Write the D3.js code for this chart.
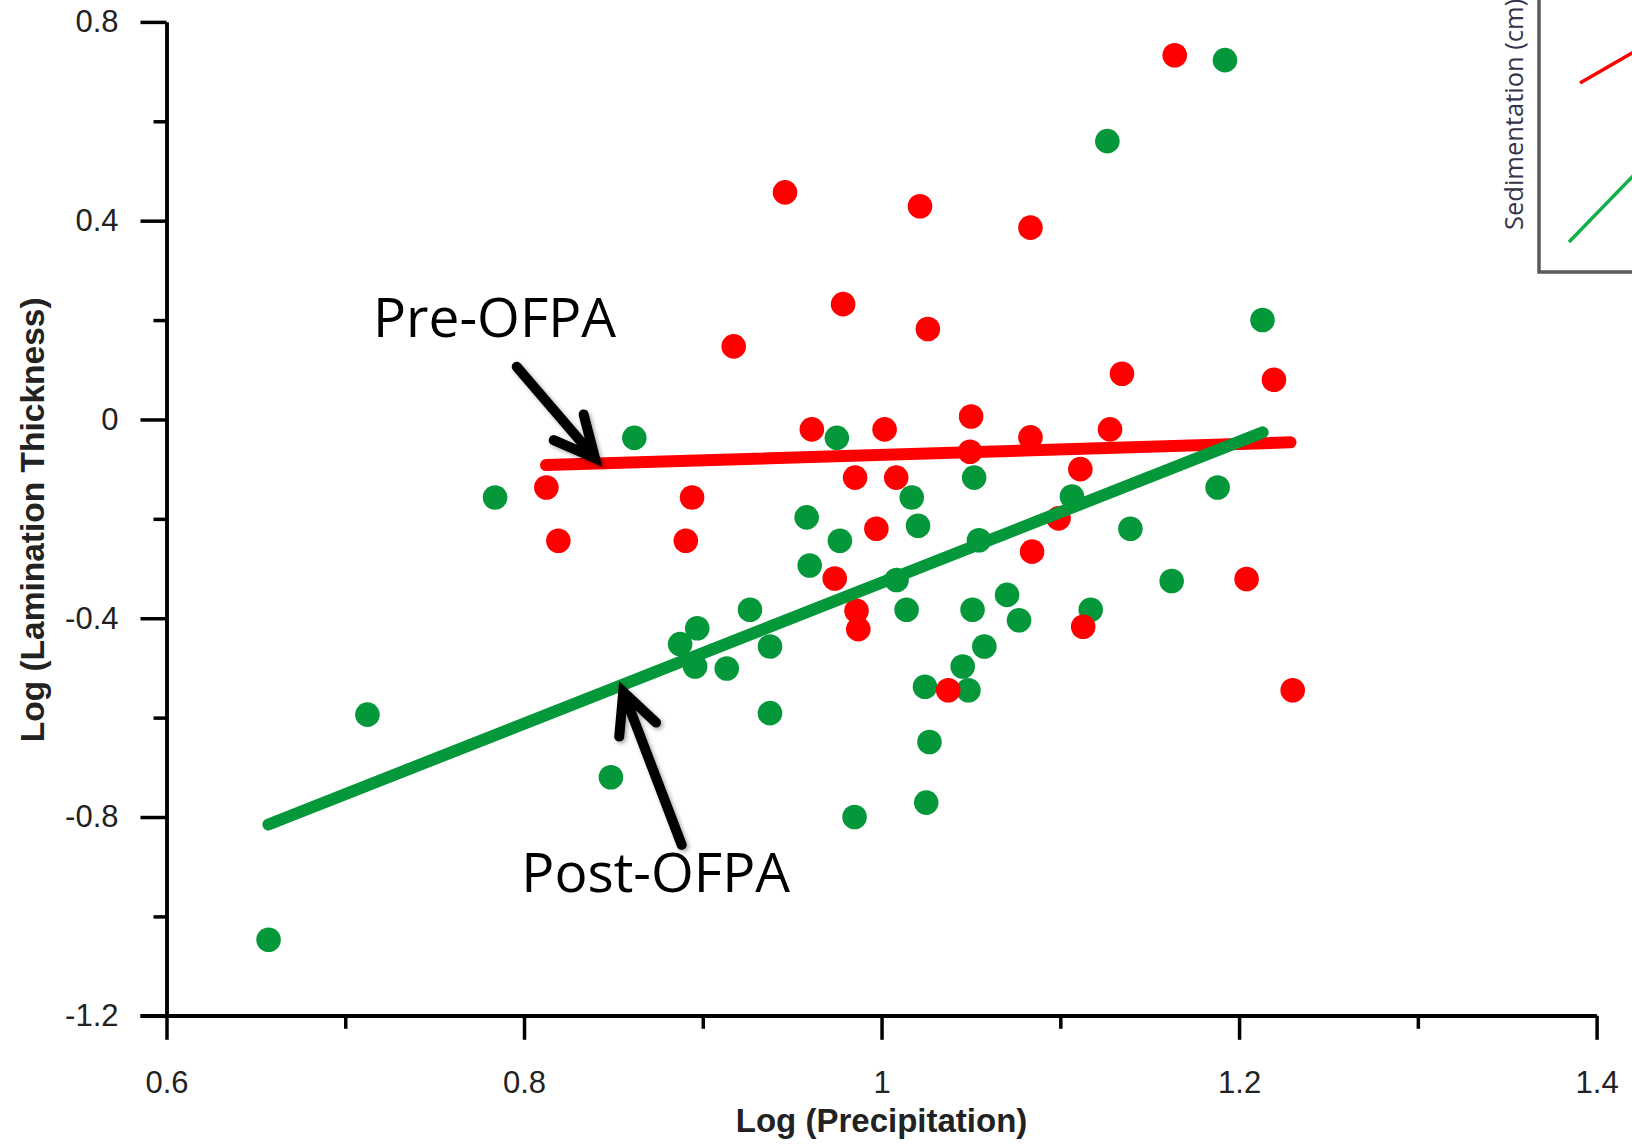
<!DOCTYPE html>
<html>
<head>
<meta charset="utf-8">
<script src="https://cdn.jsdelivr.net/npm/d3@7/dist/d3.min.js"></script>
<style>
  html, body { margin: 0; padding: 0; background: #ffffff; }
  svg { display: block; }
</style>
</head>
<body>
<svg id="chart" width="1632" height="1146"></svg>
<script>
// ---------------- DATA ----------------
const xTickValues = [0.6, 0.8, 1.0, 1.2, 1.4];
const xTickLabels = ["0.6", "0.8", "1", "1.2", "1.4"];
const xMinorTicks = [0.7, 0.9, 1.1, 1.3];
const yTickValues = [-1.2, -0.8, -0.4, 0, 0.4, 0.8];
const yTickLabels = ["-1.2", "-0.8", "-0.4", "0", "0.4", "0.8"];
const yMinorTicks = [-1.0, -0.6, -0.2, 0.2, 0.6];

const xTitle = "Log (Precipitation)";
const yTitle = "Log (Lamination Thickness)";

// Pre-OFPA (red)
const preX = [1.164, 0.946, 1.0215, 1.0833, 0.9785, 1.0259, 0.9173, 1.1345, 1.2195, 1.0501,
              0.961, 1.0017, 1.1278, 1.0833, 1.0495, 1.1112, 0.9852, 1.0082, 0.8125, 0.894,
              1.099, 0.9971, 0.8192, 0.8905, 1.0842, 0.9738, 1.2042, 0.986, 0.987, 1.1128,
              1.0373, 1.23];
const preY = [0.733, 0.457, 0.429, 0.386, 0.232, 0.182, 0.147, 0.092, 0.080, 0.006,
              -0.020, -0.020, -0.020, -0.036, -0.065, -0.100, -0.117, -0.117, -0.137, -0.157,
              -0.199, -0.220, -0.244, -0.244, -0.266, -0.320, -0.321, -0.385, -0.422, -0.417,
              -0.545, -0.545];

// Post-OFPA (green)
const postX = [1.1921, 1.1263, 1.2131, 0.8617, 0.975, 1.0518, 0.7838, 1.0169, 1.1065, 1.188,
               0.9581, 1.0204, 1.1392, 0.9767, 1.0545, 0.9598, 1.0084, 1.1623, 1.0702, 0.9264,
               1.014, 1.0509, 1.117, 1.0769, 0.8969, 0.8873, 0.9376, 1.0575, 0.8957, 0.9134,
               1.0454, 1.0243, 1.0486, 0.7124, 0.9376, 1.0268, 0.8486, 1.025, 0.9849, 0.6571];
const postY = [0.723, 0.560, 0.200, -0.037, -0.037, -0.117, -0.157, -0.157, -0.155, -0.137,
               -0.197, -0.214, -0.220, -0.244, -0.243, -0.294, -0.323, -0.325, -0.353, -0.383,
               -0.383, -0.383, -0.383, -0.404, -0.420, -0.452, -0.457, -0.457, -0.497, -0.501,
               -0.497, -0.538, -0.545, -0.594, -0.591, -0.649, -0.720, -0.771, -0.800, -1.047];

// regression lines [x, y] endpoints
const preFitX = [0.8123, 1.2288];
const preFitY = [-0.0917, -0.046];
const postFitX = [0.657, 1.2132];
const postFitY = [-0.815, -0.026];

// annotations (data units)
const annoLabels = ["Pre-OFPA", "Post-OFPA"];
const annoTextX = [0.7155, 0.7985];
const annoTextY = [0.1665, -0.9503];
const arrowTailX = [0.7959, 0.8882];
const arrowTailY = [0.1062, -0.856];
const arrowTipX = [0.8397, 0.8555];
const arrowTipY = [-0.0775, -0.548];

// inset sketch (inset units)
const insetTitle = "Sedimentation (cm)";
const insetRedX = [0.205, 0.6];
const insetRedY = [0.945, 1.173];
const insetGreenX = [0.15, 0.6];
const insetGreenY = [0.15, 0.614];

// ---------------- STYLE ----------------
const RED = "#ff0000";
const GREEN = "#05983a";

const svg = d3.select("#chart");
svg.append("rect").attr("width", 1632).attr("height", 1146).attr("fill", "#ffffff");

const defs = svg.append("defs");
const shadow = defs.append("filter").attr("id", "shadow")
  .attr("x", "-20%").attr("y", "-20%").attr("width", "140%").attr("height", "140%");
shadow.append("feDropShadow").attr("dx", 2).attr("dy", 2).attr("stdDeviation", 2)
  .attr("flood-color", "#000").attr("flood-opacity", 0.35);

const x = d3.scaleLinear().domain([0.6, 1.4]).range([166.5, 1596.6]);
const y = d3.scaleLinear().domain([-1.2, 0.8]).range([1015.8, 21.9]);

// ---------------- INSET ----------------
const ix = d3.scaleLinear().domain([0, 1]).range([1539, 1739]);
const iy = d3.scaleLinear().domain([0, 1]).range([272, 72]);
const inset = svg.append("g");
inset.append("path")
  .attr("d", `M${ix(0)},-10V${iy(0)}H1645`)
  .attr("fill", "none").attr("stroke", "#5a5a5a").attr("stroke-width", 3.5);
const iline = d3.line().x(d => ix(d[0])).y(d => iy(d[1]));
inset.append("path").attr("d", iline(d3.zip(insetRedX, insetRedY)))
  .attr("stroke", RED).attr("stroke-width", 3.5).attr("fill", "none");
inset.append("path").attr("d", iline(d3.zip(insetGreenX, insetGreenY)))
  .attr("stroke", "#12b04a").attr("stroke-width", 3.5).attr("fill", "none");
inset.append("text")
  .attr("transform", `translate(1523,230) rotate(-90)`)
  .attr("font-family", "'Open Sans', 'Noto Sans', sans-serif")
  .attr("font-size", 25.5).attr("fill", "#33334a")
  .text(insetTitle);

// ---------------- AXES ----------------
const fontAxis = "'Liberation Sans', Arial, sans-serif";

const gx = svg.append("g").attr("transform", `translate(0,${y(-1.2)})`);
gx.call(d3.axisBottom(x).tickValues(xMinorTicks).tickSize(13).tickSizeOuter(0).tickFormat(""));
const gxMajor = svg.append("g").attr("transform", `translate(0,${y(-1.2)})`)
  .call(d3.axisBottom(x).tickValues(xTickValues).tickSize(24).tickSizeOuter(0).tickPadding(31)
    .tickFormat((d, i) => xTickLabels[i]));

const gy = svg.append("g").attr("transform", `translate(${x(0.6)},0)`);
gy.call(d3.axisLeft(y).tickValues(yMinorTicks).tickSize(13).tickSizeOuter(0).tickFormat(""));
const gyMajor = svg.append("g").attr("transform", `translate(${x(0.6)},0)`)
  .call(d3.axisLeft(y).tickValues(yTickValues).tickSize(26).tickSizeOuter(0).tickPadding(22)
    .tickFormat((d, i) => yTickLabels[i]));

svg.selectAll(".domain").attr("stroke", "#000").attr("stroke-width", 3.5);
svg.selectAll(".tick line").attr("stroke", "#000").attr("stroke-width", 3.5);
svg.selectAll(".tick text").attr("font-family", fontAxis).attr("font-size", 31).attr("fill", "#222");

// x-axis extends left to meet the -1.2 tick
gxMajor.select(".domain").attr("d", `M${x(0.6) - 26},0H${x(1.4)}`);

// titles
svg.append("text")
  .attr("x", x(1.0)).attr("y", 1132)
  .attr("text-anchor", "middle")
  .attr("font-family", fontAxis).attr("font-weight", "bold").attr("font-size", 33)
  .attr("fill", "#222")
  .text(xTitle);
svg.append("text")
  .attr("transform", `translate(44,${(y(-1.2) + y(0.8)) / 2 + 1}) rotate(-90)`)
  .attr("text-anchor", "middle")
  .attr("font-family", fontAxis).attr("font-weight", "bold").attr("font-size", 33.5)
  .attr("fill", "#222")
  .text(yTitle);

// ---------------- POINTS ----------------
const R = 12.3;
svg.append("g").selectAll("circle").data(d3.zip(postX, postY)).join("circle")
  .attr("cx", d => x(d[0])).attr("cy", d => y(d[1])).attr("r", R).attr("fill", GREEN);
svg.append("g").selectAll("circle").data(d3.zip(preX, preY)).join("circle")
  .attr("cx", d => x(d[0])).attr("cy", d => y(d[1])).attr("r", R).attr("fill", RED);

// ---------------- FIT LINES ----------------
const line = d3.line().x(d => x(d[0])).y(d => y(d[1]));
svg.append("path").attr("d", line(d3.zip(preFitX, preFitY)))
  .attr("stroke", RED).attr("stroke-width", 12).attr("stroke-linecap", "round").attr("fill", "none");
svg.append("path").attr("d", line(d3.zip(postFitX, postFitY)))
  .attr("stroke", GREEN).attr("stroke-width", 12).attr("stroke-linecap", "round").attr("fill", "none");

// ---------------- ANNOTATIONS ----------------
const annoG = svg.append("g");
annoLabels.forEach((lab, i) => {
  annoG.append("text")
    .attr("x", x(annoTextX[i])).attr("y", y(annoTextY[i]))
    .attr("font-family", "'Open Sans', 'Noto Sans', sans-serif")
    .attr("font-size", 55).attr("fill", "#000")
    .text(lab);
  const tx = x(arrowTailX[i]), ty = y(arrowTailY[i]);
  const hx = x(arrowTipX[i]), hy = y(arrowTipY[i]);
  const ang = Math.atan2(hy - ty, hx - tx);
  const L = 45, spread = 26 * Math.PI / 180;
  const a1 = [hx + L * Math.cos(ang + Math.PI - spread), hy + L * Math.sin(ang + Math.PI - spread)];
  const a2 = [hx + L * Math.cos(ang + Math.PI + spread), hy + L * Math.sin(ang + Math.PI + spread)];
  const ag = annoG.append("g").attr("filter", "url(#shadow)");
  ag.append("path")
    .attr("d", `M${tx},${ty}L${hx},${hy}M${a1[0]},${a1[1]}L${hx},${hy}L${a2[0]},${a2[1]}`)
    .attr("stroke", "#000").attr("stroke-width", 10).attr("fill", "none")
    .attr("stroke-linecap", "round").attr("stroke-linejoin", "miter").attr("stroke-miterlimit", 10);
});
</script>
</body>
</html>
